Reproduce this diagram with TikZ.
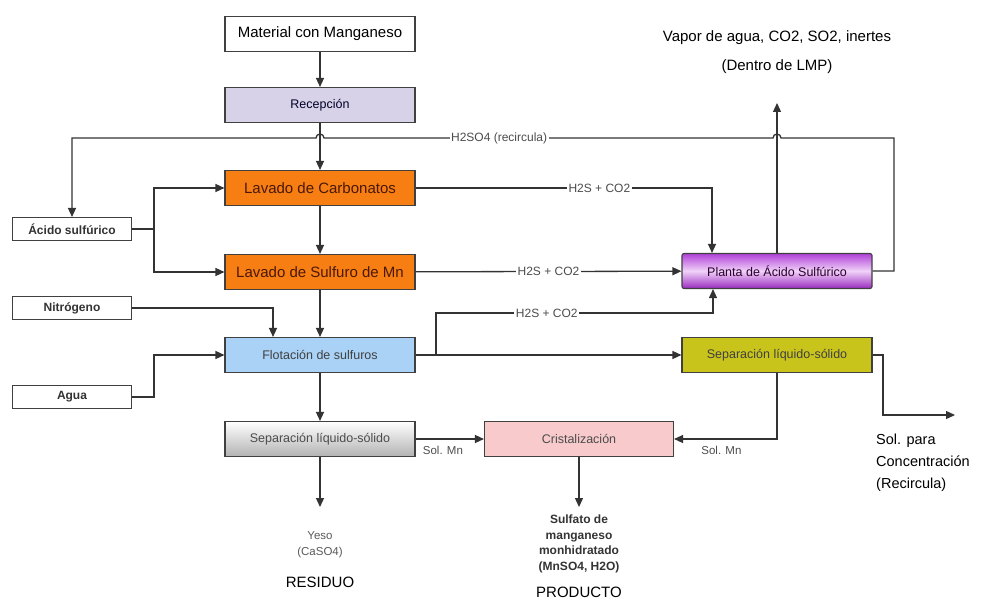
\documentclass[tikz,border=0pt]{standalone}
\usepackage{fontspec}
\setmainfont{Liberation Sans}
\usepackage{tikz}
\usetikzlibrary{positioning, arrows.meta, calc}
\usepackage{xcolor}

\definecolor{recepfill}{HTML}{D8D2E8}
\definecolor{lavfill}{HTML}{F77E12}
\definecolor{flotfill}{HTML}{A9D2F6}
\definecolor{yelfill}{HTML}{C9C41C}
\definecolor{cristfill}{HTML}{F8CACB}
\definecolor{plantatop}{HTML}{B040D8}
\definecolor{plantamid}{HTML}{F0D2F8}
\definecolor{plantabot}{HTML}{9A2BC0}
\definecolor{wire}{HTML}{333333}
\definecolor{lavtext}{HTML}{4A1808}

\begin{document}
\begin{tikzpicture}[
    x=1pt, y=-1pt,
    >={Triangle[length=9pt,width=8pt]},
    flow/.style={->, draw=wire, line width=1.3pt},
    proc/.style={draw=black!75, line width=1.1pt, minimum width=190pt, minimum height=35pt,
        inner sep=2pt, font=\fontsize{12.5}{14}\selectfont},
    feed/.style={draw=black!75, line width=1.1pt, minimum width=119pt, minimum height=23pt,
        inner sep=1pt, font=\bfseries\fontsize{12}{14}\selectfont, text=black!80},
    lbl/.style={fill=white, inner sep=1.5pt, text=black!70, font=\fontsize{12}{14}\selectfont},
    note/.style={align=center, inner sep=0pt}
]
    \useasboundingbox (0,0) rectangle (982,599);

    % Main line of the process.
    \node[proc, font=\fontsize{15}{17}\selectfont] (mat) at (320,34) {Material con Manganeso};
    \node[proc, fill=recepfill, text=black!60!blue!40!black] (recep) at (320,105) {Recepción};
    \node[proc, fill=lavfill, text=lavtext, font=\fontsize{15}{17}\selectfont] (lavc) at (320,188) {Lavado de Carbonatos};
    \node[proc, fill=lavfill, text=lavtext, font=\fontsize{15}{17}\selectfont] (lavs) at (320,272) {Lavado de Sulfuro de Mn};
    \node[proc, fill=flotfill, text=black!75] (flot) at (320,355) {Flotación de sulfuros};
    \node[proc, top color=white, bottom color=black!30, text=black!70] (gris) at (320,439) {Separación líquido-sólido};
    \node[proc, fill=cristfill, text=black!70, minimum width=189pt] (crist) at (579,439) {Cristalización};
    \node[proc, top color=plantatop, bottom color=plantabot, middle color=plantamid,
        rounded corners=2pt, text=black!65!violet] (planta) at (777,271) {Planta de Ácido Sulfúrico};
    \node[proc, fill=yelfill, text=black!75] (yel) at (777,355) {Separación líquido-sólido};

    % Feeds on the left.
    \node[feed] (acido) at (72,229) {Ácido sulfúrico};
    \node[feed] (nitro) at (72,308) {Nitrógeno};
    \node[feed] (agua) at (72,397) {Agua};

    % Outputs.
    \node[note, font=\fontsize{15}{17}\selectfont] (vapor) at (777,38) {Vapor de agua, CO2, SO2, inertes};
    \node[note, font=\fontsize{15}{17}\selectfont] (lmp) at (777,67) {(Dentro de LMP)};
    \node[note, text=black!65, font=\fontsize{11.5}{16}\selectfont] (yeso) at (320,545) {Yeso\\(CaSO4)};
    \node[note, font=\fontsize{15}{17}\selectfont] (residuo) at (320,582) {RESIDUO};
    \node[note, font=\bfseries\fontsize{12}{15.7}\selectfont, text=black!80] (sulfato) at (579,544)
        {Sulfato de\\manganeso\\monhidratado\\(MnSO4, H2O)};
    \node[note, font=\fontsize{15}{17}\selectfont] (producto) at (579,592) {PRODUCTO};
    \node[note, align=left, anchor=north west, font=\fontsize{14.5}{22}\selectfont] (solpara) at (876,434)
        {Sol. para\\Concentración\\(Recircula)};

    \coordinate (aj) at (154,229);
    \coordinate (br) at (436,355);
    \coordinate (vapout) at (777,103);
    \coordinate (yesout) at (320,507);
    \coordinate (sulfout) at (579,507);
    \coordinate (solout) at (955,415);

    % Connectors.
    \draw[flow] (mat) -- (recep);
    \draw[flow] (recep) -- (lavc);
    \draw[flow] (lavc) -- (lavs);
    \draw[flow] (lavs) -- (flot);
    \draw[flow] (flot) -- (gris);
    \draw[flow] (acido.east) -- (aj) |- (lavc.west);
    \draw[flow] (aj) |- (lavs.west);
    \draw[flow] (nitro.east) -| ([xshift=-47pt]flot.north);
    \draw[flow] (agua.east) -- (154,397) |- (flot.west);
    \draw[flow] (lavc.east) -| node[lbl, pos=0.31] {H2S + CO2} ([xshift=-65pt]planta.north);
    \draw[flow] (lavs) -- node[lbl] {H2S + CO2} (planta);
    \draw[flow] (flot) -- (yel);
    \draw[flow] (br) |- node[lbl, pos=0.7] {H2S + CO2} (713,313) -- ([xshift=-64pt]planta.south);
    \draw[flow] (planta.north) -- (vapout);
    \draw[flow] (planta.east) -- (894,271) -- (894,138) -- (781,138)
        arc[start angle=0, end angle=180, radius=4pt] -- node[lbl, pos=0.61] {H2SO4 (recircula)} (324,138)
        arc[start angle=0, end angle=180, radius=4pt] -| (acido.north);
    \draw[flow] (yel.east) -- (883,355) |- (solout);
    \draw[flow] (yel.south) |- node[pos=0.77, below=3pt, text=black!70, font=\fontsize{11.5}{14}\selectfont] {Sol. Mn} (crist.east);
    \draw[flow] (gris) -- node[pos=0.4, below=3pt, text=black!70, font=\fontsize{11.5}{14}\selectfont] {Sol. Mn} (crist);
    \draw[flow] (gris) -- (yesout);
    \draw[flow] (crist) -- (sulfout);
\end{tikzpicture}
\end{document}
